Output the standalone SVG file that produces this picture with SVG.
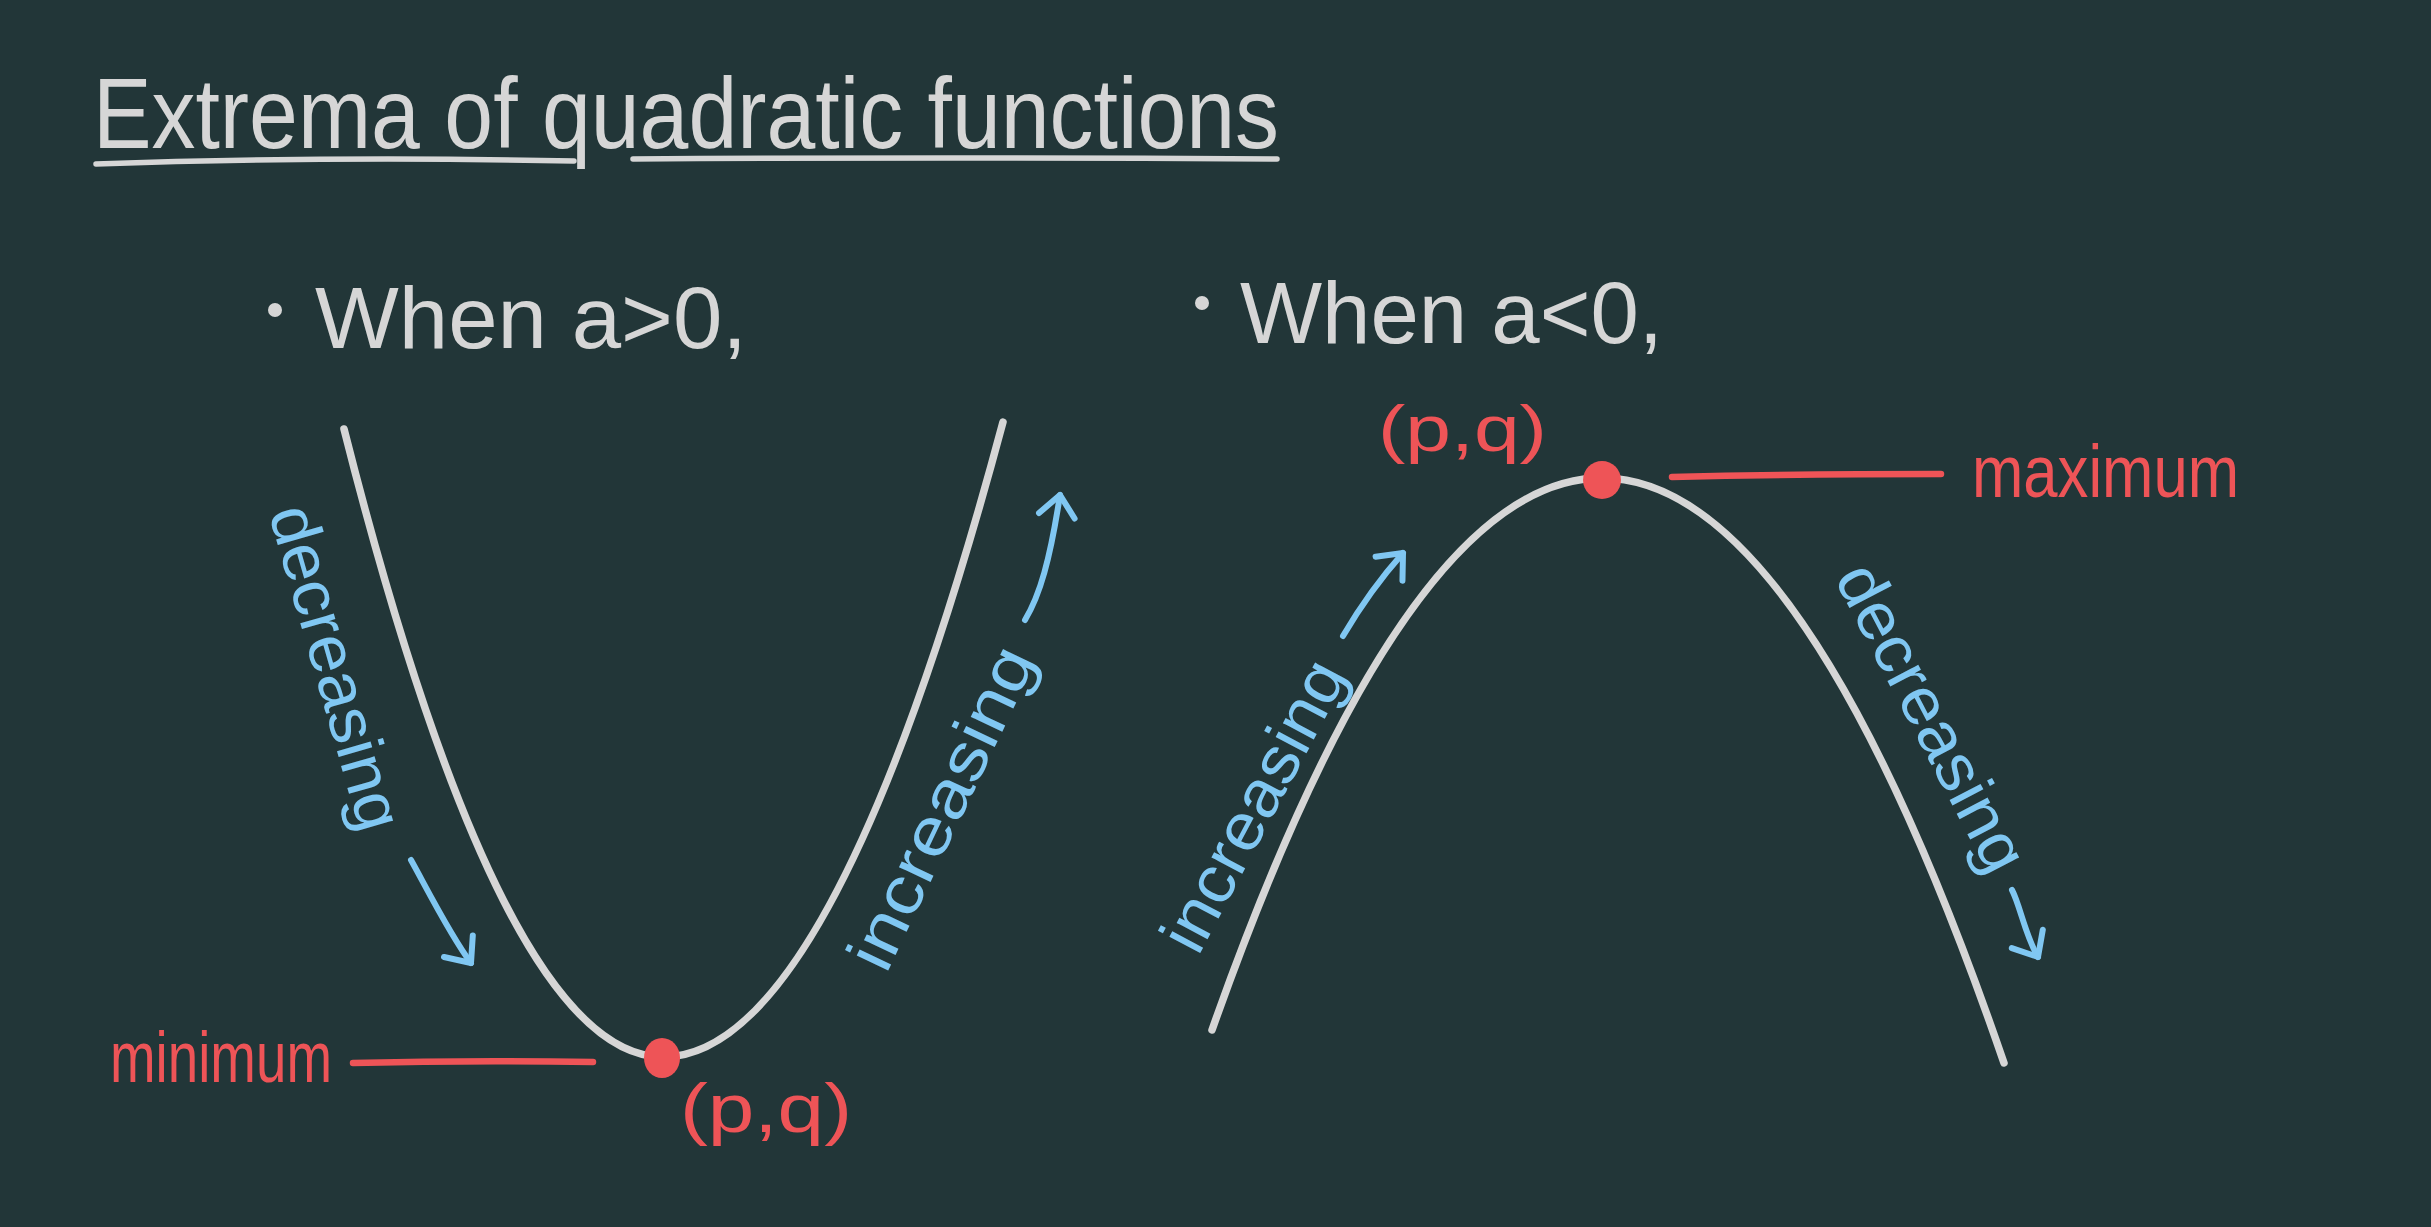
<svg xmlns="http://www.w3.org/2000/svg" width="2431" height="1227" viewBox="0 0 2431 1227">
<style>
text{font-family:"Liberation Sans","Noto Sans",Arial,sans-serif}
.g{fill:#d6d6d6}
.b{fill:#80c7f2}
.r{fill:#ee5457}
.curve{fill:none;stroke:#d6d6d6;stroke-width:7.5;stroke-linecap:round}
.arrow{fill:none;stroke:#80c7f2;stroke-width:6;stroke-linecap:round;stroke-linejoin:round}
.lead{fill:none;stroke:#ee5457;stroke-width:6.5;stroke-linecap:round}
.ul{fill:none;stroke:#d6d6d6;stroke-width:5.5;stroke-linecap:round}
</style>
<defs>
<marker id="head" markerUnits="userSpaceOnUse" markerWidth="50" markerHeight="50" refX="0" refY="0" orient="auto" overflow="visible">
<path d="M -21 -18 L 0 0 L -21 18" fill="none" stroke="#80c7f2" stroke-width="6" stroke-linecap="round" stroke-linejoin="round"/>
</marker>
</defs>
<rect width="2431" height="1227" fill="#223638"/>

<g id="title">
<text class="g" x="93" y="148" font-size="100" textLength="1186" lengthAdjust="spacingAndGlyphs">Extrema of quadratic functions</text>
<path class="ul" d="M 96 164 Q 330 156 574 161"/>
<path class="ul" d="M 633 159 Q 950 157 1277 159"/>
</g>

<g id="heading-left">
<circle class="g" cx="275" cy="310" r="7"/>
<text class="g" x="315" y="348" font-size="88" textLength="432" lengthAdjust="spacingAndGlyphs">When a&gt;0,</text>
</g>
<g id="heading-right">
<circle class="g" cx="1202" cy="303" r="7"/>
<text class="g" x="1240" y="343" font-size="88" textLength="423" lengthAdjust="spacingAndGlyphs">When a&lt;0,</text>
</g>

<g id="parabola-up">
<path class="curve" d="M 344 429 Q 503 1057 663 1057 Q 833 1057 1003 422"/>
</g>
<g id="parabola-down">
<path class="curve" d="M 1212 1030 Q 1407 478 1602 478 Q 1803 478 2004 1063"/>
</g>

<g id="vertex-min">
<ellipse class="r" cx="662" cy="1058" rx="18" ry="20"/>
<text class="r" x="680" y="1132" font-size="68" textLength="172" lengthAdjust="spacingAndGlyphs">(p,q)</text>
</g>
<g id="vertex-max">
<ellipse class="r" cx="1602" cy="480" rx="19" ry="19"/>
<text class="r" x="1378" y="451" font-size="65" textLength="169" lengthAdjust="spacingAndGlyphs">(p,q)</text>
</g>

<g id="label-minimum">
<text class="r" x="110" y="1082" font-size="72" textLength="222" lengthAdjust="spacingAndGlyphs">minimum</text>
</g>
<g id="label-maximum">
<text class="r" x="1972" y="497" font-size="74" textLength="267" lengthAdjust="spacingAndGlyphs">maximum</text>
</g>

<g id="label-left-decreasing">
<text class="b" transform="translate(331,669) rotate(74)" x="0" y="17" font-size="66" text-anchor="middle" textLength="335" lengthAdjust="spacingAndGlyphs">decreasing</text>
</g>
<g id="label-left-increasing">
<text class="b" transform="translate(946,810) rotate(-64.5)" x="0" y="17" font-size="66" text-anchor="middle" textLength="350" lengthAdjust="spacingAndGlyphs">increasing</text>
</g>
<g id="label-right-increasing">
<text class="b" transform="translate(1258,808) rotate(-62)" x="0" y="17" font-size="66" text-anchor="middle" textLength="320" lengthAdjust="spacingAndGlyphs">increasing</text>
</g>
<g id="label-right-decreasing">
<text class="b" transform="translate(1927,720) rotate(62.4)" x="0" y="17" font-size="66" text-anchor="middle" textLength="338" lengthAdjust="spacingAndGlyphs">decreasing</text>
</g>

<g id="connectors">
<path class="lead" d="M 353 1063 Q 470 1060 593 1062"/>
<path class="lead" d="M 1672 477 Q 1800 474 1941 474"/>
<path class="arrow" marker-end="url(#head)" d="M 411 860 C 425 885, 450 935, 471 963"/>
<path class="arrow" marker-end="url(#head)" d="M 1025 620 C 1040 595, 1050 560, 1060 495"/>
<path class="arrow" marker-end="url(#head)" d="M 1343 636 Q 1370 590 1403 553"/>
<path class="arrow" marker-end="url(#head)" d="M 2012 890 C 2020 905, 2025 935, 2038 957"/>
</g>
</svg>
